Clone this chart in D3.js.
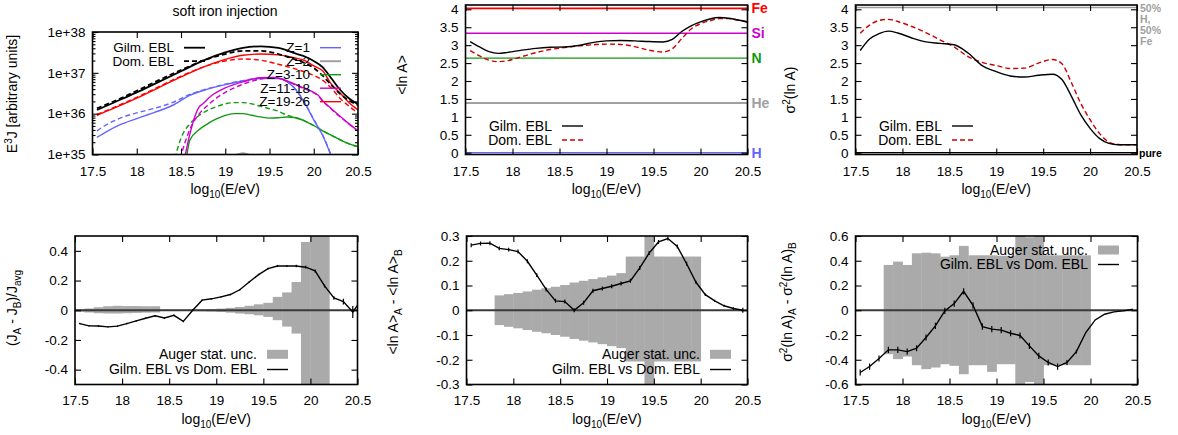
<!DOCTYPE html>
<html><head><meta charset="utf-8">
<script src="https://cdn.jsdelivr.net/npm/d3@7"></script>
<style>
body{margin:0;background:#fff;}
svg{display:block;font-family:"Liberation Sans",Arial,Helvetica,sans-serif;}
</style></head><body>
<svg id="chart" width="1178" height="435"></svg>
<script>
// ---------- shared axis data ----------
const xTickVals = [17.5, 18, 18.5, 19, 19.5, 20, 20.5];

// ---------- spectrum panel (log10 of E^3 J) ----------
const eTotal = [17.55,17.75,18.0,18.25,18.5,18.75,19.0,19.2,19.4,19.6,19.8,19.9,20.0,20.1,20.2,20.3,20.4,20.5];
const gilmTotal = [36.09,36.28,36.52,36.78,37.04,37.30,37.50,37.61,37.65,37.61,37.47,37.40,37.29,37.14,36.86,36.58,36.37,36.23];
const domTotal  = [36.13,36.31,36.56,36.82,37.07,37.30,37.46,37.54,37.54,37.46,37.32,37.24,37.12,36.93,36.70,36.48,36.32,36.21];
const gilmZ19   = [35.96,36.14,36.38,36.64,36.90,37.14,37.33,37.43,37.46,37.44,37.36,37.30,37.17,37.05,36.72,36.50,36.27,36.09];
const domZ19    = [35.98,36.16,36.40,36.66,36.92,37.14,37.29,37.34,37.31,37.21,37.09,37.02,36.94,36.82,36.62,36.37,36.18,36.02];

const eZ1 = [17.55,17.65,17.8,18.0,18.2,18.4,18.6,18.8,19.0,19.2,19.4,19.6,19.7,19.8,19.9,20.0,20.1,20.2];
const gilmZ1 = [35.42,35.55,35.72,35.88,36.03,36.20,36.45,36.60,36.71,36.80,36.86,36.86,36.78,36.58,36.25,35.85,35.47,34.95];
const domZ1  = [35.58,35.72,35.88,36.02,36.13,36.27,36.47,36.61,36.72,36.81,36.87,36.87,36.79,36.59,36.26,35.86,35.48,34.96];

const eZ11Gilm = [18.54,18.6,18.7,18.75,18.85,19.0,19.2,19.4,19.55,19.7,19.85,20.0,20.05,20.1,20.2,20.3,20.4,20.5];
const gilmZ11  = [34.9,35.5,36.15,36.25,36.45,36.63,36.78,36.88,36.89,36.80,36.66,36.52,36.45,36.32,36.12,35.93,35.75,35.58];
const eZ11Dom  = [18.49,18.6,18.7,18.8,18.9,19.0,19.2,19.4,19.55,19.7,19.85,20.0,20.05,20.1,20.2,20.3,20.4,20.5];
const domZ11   = [34.9,35.62,35.98,36.2,36.38,36.52,36.72,36.85,36.89,36.79,36.65,36.51,36.44,36.31,36.11,35.92,35.74,35.57];

const eZ3Gilm = [18.56,18.6,18.7,18.8,18.9,19.0,19.1,19.2,19.3,19.4,19.5,19.6,19.7,19.8,19.9,20.0,20.1,20.2,20.3,20.4,20.5];
const gilmZ3  = [34.9,35.35,35.6,35.75,35.87,35.96,36.0,36.0,35.96,35.92,35.89,35.9,35.92,35.9,35.82,35.71,35.58,35.47,35.36,35.26,35.19];
const eZ3Dom  = [18.43,18.5,18.6,18.7,18.8,18.9,19.0,19.1,19.2,19.3,19.4,19.5,19.6,19.7,19.8,19.9,20.0,20.1,20.2,20.3,20.4,20.5];
const domZ3   = [34.9,35.4,35.75,35.95,36.08,36.17,36.24,36.27,36.27,36.24,36.18,36.12,36.06,35.96,35.9,35.82,35.71,35.58,35.47,35.36,35.26,35.19];

const eZ2 = [19.1,19.2,19.3];
const gilmZ2 = [34.97,35.03,34.97];

const specTickVals = [1e35, 1e36, 1e37, 1e38];
const specTickLabels = ["1e+35", "1e+36", "1e+37", "1e+38"];

// ---------- composition panels ----------
const eComp = [17.55,17.65,17.75,17.85,17.95,18.1,18.25,18.4,18.55,18.7,18.85,19.0,19.15,19.3,19.45,19.6,19.7,19.8,19.9,20.0,20.1,20.2,20.3,20.4,20.5];
const gilmLnA = [3.10,2.95,2.82,2.77,2.80,2.86,2.91,2.94,2.95,2.99,3.07,3.12,3.13,3.12,3.10,3.09,3.16,3.38,3.54,3.65,3.73,3.77,3.75,3.70,3.64];
const domLnA  = [2.85,2.70,2.58,2.54,2.57,2.68,2.79,2.88,2.93,2.98,3.01,3.03,3.02,2.96,2.86,2.81,2.90,3.18,3.45,3.60,3.68,3.74,3.74,3.70,3.66];
const gilmVar = [2.85,3.17,3.32,3.39,3.34,3.20,3.09,3.05,3.01,2.78,2.43,2.26,2.14,2.11,2.16,2.19,2.04,1.58,1.06,0.68,0.40,0.26,0.22,0.22,0.22];
const domVar  = [3.33,3.56,3.69,3.72,3.66,3.52,3.35,3.15,2.95,2.68,2.52,2.43,2.35,2.36,2.50,2.60,2.48,1.96,1.38,0.92,0.54,0.30,0.23,0.22,0.22];

const elementNames = ["Fe", "Si", "N", "He", "H"];
const elementLnA   = [4.025, 3.332, 2.639, 1.386, 0.0];
const elementColors = ["#ff0000", "#cc00cc", "#109a10", "#a0a0a0", "#6464ff"];
const mixedVar = 4.05;   // 50% H + 50% Fe
const compTickVals = [0, 0.5, 1, 1.5, 2, 2.5, 3, 3.5, 4];

// ---------- difference panels ----------
const eDiff = [17.55,17.65,17.75,17.85,17.95,18.05,18.15,18.25,18.35,18.45,18.55,18.65,18.75,18.85,18.95,19.05,19.15,19.25,19.35,19.45,19.55,19.65,19.75,19.85,19.95,20.05,20.15,20.25,20.35,20.45,20.55];
const diffJ    = [-0.09,-0.105,-0.106,-0.112,-0.107,-0.09,-0.072,-0.054,-0.037,-0.052,-0.034,-0.075,0.0,0.068,0.077,0.09,0.106,0.138,0.19,0.24,0.28,0.298,0.298,0.298,0.29,0.265,0.164,0.083,0.058,-0.012,0.08];
const diffJErr = [0.005,0.005,0.005,0.005,0.005,0.005,0.005,0.005,0.005,0.005,0.005,0.005,0.005,0.005,0.005,0.005,0.005,0.005,0.005,0.005,0.006,0.006,0.007,0.008,0.009,0.01,0.01,0.012,0.02,0.04,0.05];
const diffLnA    = [0.263,0.27,0.271,0.25,0.245,0.237,0.198,0.142,0.084,0.038,0.035,0.0,0.03,0.079,0.088,0.097,0.108,0.119,0.171,0.231,0.276,0.29,0.258,0.188,0.113,0.063,0.038,0.018,0.007,0.0];
const diffLnAErr = [0.008,0.008,0.008,0.008,0.008,0.008,0.008,0.008,0.008,0.008,0.008,0.008,0.008,0.008,0.008,0.008,0.008,0.008,0.008,0.008,0.008,0.008,0.008,0.008,0.006,0.005,0.004,0.004,0.005,0.01];
const diffVar    = [-0.503,-0.455,-0.39,-0.32,-0.32,-0.334,-0.307,-0.22,-0.126,-0.005,0.054,0.153,0.04,-0.132,-0.153,-0.161,-0.186,-0.204,-0.288,-0.369,-0.422,-0.455,-0.422,-0.334,-0.18,-0.078,-0.032,-0.013,-0.005,0.008];
const diffVarErr = [0.025,0.025,0.025,0.025,0.025,0.025,0.025,0.025,0.025,0.025,0.025,0.025,0.025,0.025,0.025,0.025,0.025,0.025,0.025,0.025,0.025,0.025,0.02,0.015,0.0,0.0,0.0,0.0,0.0,0.0];

// Auger statistical uncertainty (bin lower edges, width 0.1)
const binJ = [17.5,17.6,17.7,17.8,17.9,18.0,18.1,18.2,18.3,18.4,18.5,18.6,18.7,18.8,18.9,19.0,19.1,19.2,19.3,19.4,19.5,19.6,19.7,19.8,19.9,20.0,20.1];
const uncJUp   = [0.008,0.012,0.02,0.027,0.03,0.028,0.028,0.027,0.027,0.004,0.004,0.004,0.005,0.006,0.008,0.011,0.016,0.022,0.03,0.04,0.05,0.09,0.12,0.19,0.46,0.6,0.6];
const uncJDown = [-0.01,-0.015,-0.02,-0.022,-0.022,-0.02,-0.018,-0.016,-0.015,-0.004,-0.004,-0.005,-0.006,-0.007,-0.009,-0.012,-0.016,-0.022,-0.027,-0.034,-0.045,-0.067,-0.11,-0.157,-0.6,-0.6,-0.6];
const binComp = [17.8,17.9,18.0,18.1,18.2,18.3,18.4,18.5,18.6,18.7,18.8,18.9,19.0,19.1,19.2,19.3,19.4,19.5,19.6,19.7,19.8,19.9];
const uncLnAUp   = [0.060,0.065,0.070,0.076,0.083,0.089,0.095,0.102,0.112,0.119,0.126,0.133,0.140,0.150,0.217,0.217,0.4,0.217,0.217,0.217,0.217,0.217];
const uncLnADown = [-0.060,-0.067,-0.073,-0.080,-0.087,-0.093,-0.100,-0.107,-0.116,-0.123,-0.130,-0.137,-0.145,-0.153,-0.207,-0.207,-0.4,-0.207,-0.207,-0.207,-0.207,-0.207];
const uncVarUp   = [0.366,0.393,0.366,0.46,0.465,0.46,0.433,0.444,0.52,0.444,0.444,0.444,0.44,0.44,0.7,0.59,0.7,0.444,0.444,0.444,0.444,0.444];
const uncVarDown = [-0.355,-0.395,-0.374,-0.444,-0.476,-0.463,-0.436,-0.449,-0.517,-0.444,-0.444,-0.498,-0.436,-0.436,-0.7,-0.58,-0.7,-0.444,-0.444,-0.444,-0.444,-0.444];
const binWidth = 0.1;

// ---------- drawing helpers ----------
const svg = d3.select("#chart");
const FONT = 13.5;
let clipCount = 0;

function makePanel(c) {
  const x = d3.scaleLinear().domain([17.5, 20.5]).range([c.left, c.right]);
  const y = (c.log ? d3.scaleLog() : d3.scaleLinear()).domain(c.yDomain).range([c.bottom, c.top]);
  const id = "clip" + (clipCount++);
  svg.append("clipPath").attr("id", id).append("rect")
    .attr("x", c.left).attr("y", c.top).attr("width", c.right - c.left).attr("height", c.bottom - c.top);
  const plot = svg.append("g").attr("clip-path", `url(#${id})`);
  return Object.assign({}, c, { x, y, plot });
}

function styleAxis(g) {
  g.select(".domain").remove();
  g.attr("font-size", FONT).attr("font-family", null);
  g.selectAll(".tick line").attr("stroke", "#000").attr("stroke-width", 1.1);
  g.selectAll(".tick text").attr("fill", "#000");
}

function drawAxes(p) {
  svg.append("g").attr("transform", `translate(0,${p.bottom})`)
    .call(d3.axisBottom(p.x).tickValues(xTickVals).tickSizeInner(-6).tickSizeOuter(0).tickPadding(p.xPad || 11.5).tickFormat(d => String(d)))
    .call(styleAxis);
  svg.append("g").attr("transform", `translate(0,${p.top})`)
    .call(d3.axisTop(p.x).tickValues(xTickVals).tickSizeInner(-6).tickSizeOuter(0).tickFormat(""))
    .call(styleAxis);
  const fmt = p.yLabels ? (d => p.yLabels[p.yTicks.indexOf(d)]) : (d => String(d));
  svg.append("g").attr("transform", `translate(${p.left},0)`)
    .call(d3.axisLeft(p.y).tickValues(p.yTicks).tickSizeInner(-6).tickSizeOuter(0).tickPadding(7).tickFormat(fmt))
    .call(styleAxis);
  svg.append("g").attr("transform", `translate(${p.right},0)`)
    .call(d3.axisRight(p.y).tickValues(p.yTicks).tickSizeInner(-6).tickSizeOuter(0).tickFormat(""))
    .call(styleAxis);
  if (p.minor) {
    svg.append("g").attr("transform", `translate(${p.left},0)`)
      .call(d3.axisLeft(p.y).tickValues(p.minor).tickSizeInner(-3).tickSizeOuter(0).tickFormat(""))
      .call(styleAxis);
    svg.append("g").attr("transform", `translate(${p.right},0)`)
      .call(d3.axisRight(p.y).tickValues(p.minor).tickSizeInner(-3).tickSizeOuter(0).tickFormat(""))
      .call(styleAxis);
  }
  svg.append("rect").attr("x", p.left).attr("y", p.top)
    .attr("width", p.right - p.left).attr("height", p.bottom - p.top)
    .attr("fill", "none").attr("stroke", "#000").attr("stroke-width", 1.6);
}

function xLabel(p, baseline) {
  const t = svg.append("text").attr("x", (p.left + p.right) / 2).attr("y", baseline)
    .attr("text-anchor", "middle").attr("font-size", 14);
  t.append("tspan").text("log");
  t.append("tspan").attr("dy", 4).attr("font-size", 10).text("10");
  t.append("tspan").attr("dy", -4).text("(E/eV)");
}

// parts: [text, "n"|"sup"|"sub"]
function yLabel(cx, cy, parts) {
  const t = svg.append("text").attr("transform", `translate(${cx},${cy}) rotate(-90)`)
    .attr("text-anchor", "middle").attr("dy", "0.35em").attr("font-size", 14);
  let shift = 0;
  parts.forEach(([s, kind]) => {
    const target = kind === "sup" ? -5 : kind === "sub" ? 4 : 0;
    const sp = t.append("tspan").attr("dy", target - shift).text(s);
    if (kind !== "n") sp.attr("font-size", 10);
    shift = target;
  });
}

function seriesLine(p, xs, ys, opts) {
  const pts = xs.map((e, i) => [e, ys[i]]);
  const line = d3.line()
    .x(d => p.x(d[0]))
    .y(d => p.y(opts.log ? Math.pow(10, d[1]) : d[1]))
    .curve(opts.curve || d3.curveMonotoneX);
  p.plot.append("path").datum(pts).attr("d", line)
    .attr("fill", "none").attr("stroke", opts.color).attr("stroke-width", opts.width || 1.4)
    .attr("stroke-dasharray", opts.dash || null).attr("stroke-linejoin", "round");
}

function legendRow(textRight, cy, label, kind, color, dash, width, size) {
  svg.append("text").attr("x", textRight).attr("y", cy).attr("dy", "0.35em")
    .attr("text-anchor", "end").attr("font-size", size || 14).text(label);
  if (kind === "box") {
    svg.append("rect").attr("x", textRight + 10).attr("y", cy - 4.5)
      .attr("width", 21).attr("height", 9).attr("fill", color);
  } else {
    svg.append("line").attr("x1", textRight + 10).attr("x2", textRight + 31)
      .attr("y1", cy).attr("y2", cy).attr("stroke", color)
      .attr("stroke-width", width || 1.4).attr("stroke-dasharray", dash || null);
  }
}

function uncBars(p, bins, up, down) {
  p.plot.selectAll(null).data(bins.map((b, i) => [b, up[i], down[i]])).enter()
    .append("rect")
    .attr("x", d => p.x(d[0]))
    .attr("width", d => p.x(d[0] + binWidth) - p.x(d[0]) + 0.4)
    .attr("y", d => p.y(d[1]))
    .attr("height", d => p.y(d[2]) - p.y(d[1]))
    .attr("fill", "#aaaaaa");
}

function zeroLine(p) {
  p.plot.append("line").attr("x1", p.left).attr("x2", p.right)
    .attr("y1", p.y(0)).attr("y2", p.y(0)).attr("stroke", "#3a3a3a").attr("stroke-width", 2);
}

function diffSeries(p, xs, ys, errs) {
  const pts = ys.map((v, i) => [xs[i], v, errs[i]]);
  p.plot.append("path").datum(pts)
    .attr("d", d3.line().x(d => p.x(d[0])).y(d => p.y(d[1])))
    .attr("fill", "none").attr("stroke", "#000").attr("stroke-width", 1.4);
  p.plot.selectAll(null).data(pts.filter(d => d[2] > 0)).enter().append("line")
    .attr("x1", d => p.x(d[0])).attr("x2", d => p.x(d[0]))
    .attr("y1", d => p.y(d[1] - d[2])).attr("y2", d => p.y(d[1] + d[2]))
    .attr("stroke", "#000").attr("stroke-width", 1.2);
}

// ---------- A: spectrum ----------
const minorLog = [];
[1e35, 1e36, 1e37].forEach(dec => [2,3,4,5,6,7,8,9].forEach(m => minorLog.push(dec * m)));
const pA = makePanel({ left: 92.5, right: 358, top: 32, bottom: 154.5, log: true,
  yDomain: [1e35, 1e38], yTicks: specTickVals, yLabels: specTickLabels, minor: minorLog });

const cBlue = "#6464ff", cGrey = "#a0a0a0", cGreen = "#109a10", cMag = "#d000d0", cRed = "#ff0000";
seriesLine(pA, eZ2, gilmZ2, { log: true, color: cGrey, width: 2 });
seriesLine(pA, eZ3Dom, domZ3, { log: true, color: cGreen, dash: "5,3" });
seriesLine(pA, eZ3Gilm, gilmZ3, { log: true, color: cGreen });
seriesLine(pA, eZ1, domZ1, { log: true, color: cBlue, dash: "5,3" });
seriesLine(pA, eZ1, gilmZ1, { log: true, color: cBlue });
seriesLine(pA, eZ11Dom, domZ11, { log: true, color: cMag, dash: "5,3" });
seriesLine(pA, eZ11Gilm, gilmZ11, { log: true, color: cMag });
seriesLine(pA, eTotal, domZ19, { log: true, color: cRed, dash: "5,3" });
seriesLine(pA, eTotal, gilmZ19, { log: true, color: cRed });
seriesLine(pA, eTotal, domTotal, { log: true, color: "#000", dash: "5,3", width: 1.8 });
seriesLine(pA, eTotal, gilmTotal, { log: true, color: "#000", width: 1.8 });
drawAxes(pA);
svg.append("text").attr("x", 225).attr("y", 15.5).attr("text-anchor", "middle")
  .attr("font-size", 14).text("soft iron injection");
xLabel(pA, 194);
yLabel(17, 94, [["E", "n"], ["3", "sup"], ["J [arbitrary units]", "n"]]);
legendRow(174, 47.7, "Gilm. EBL", "line", "#000", null, 1.8, 13.5);
legendRow(174, 61.2, "Dom. EBL", "line", "#000", "5,3", 1.8, 13.5);
const zNames = ["Z=1", "Z=2", "Z=3-10", "Z=11-18", "Z=19-26"];
const zColors = [cBlue, cGrey, cGreen, cMag, cRed];
zNames.forEach((n, i) => legendRow(310, 47.7 + i * 13.5, n, "line", zColors[i], null, i === 1 ? 2 : 1.4, 13.5));

// ---------- B: <ln A> ----------
const pB = makePanel({ left: 465.5, right: 747.5, top: 5, bottom: 154.5,
  yDomain: [-0.05, 4.12], yTicks: compTickVals });
elementLnA.forEach((v, i) => {
  pB.plot.append("line").attr("x1", pB.left).attr("x2", pB.right)
    .attr("y1", pB.y(v)).attr("y2", pB.y(v)).attr("stroke", elementColors[i])
    .attr("stroke-width", i === 3 ? 2 : (i === 0 ? 1.8 : 1.3));
  svg.append("text").attr("x", pB.right + 4).attr("y", pB.y(v)).attr("dy", "0.36em")
    .attr("font-size", 14).attr("font-weight", "bold").attr("fill", elementColors[i]).text(elementNames[i]);
});
seriesLine(pB, eComp, domLnA, { color: "#cc0000", dash: "5,3" });
seriesLine(pB, eComp, gilmLnA, { color: "#000" });
drawAxes(pB);
xLabel(pB, 194);
yLabel(407, 75, [["<ln A>", "n"]]);
legendRow(552, 126, "Gilm. EBL", "line", "#000");
legendRow(552, 140, "Dom. EBL", "line", "#cc0000", "5,3");

// ---------- C: sigma^2(ln A) ----------
const pC = makePanel({ left: 855.5, right: 1137, top: 5, bottom: 154.5,
  yDomain: [-0.05, 4.12], yTicks: compTickVals });
pC.plot.append("line").attr("x1", pC.left).attr("x2", pC.right)
  .attr("y1", pC.y(mixedVar)).attr("y2", pC.y(mixedVar)).attr("stroke", "#a0a0a0").attr("stroke-width", 1.5);
pC.plot.append("line").attr("x1", pC.left).attr("x2", pC.right)
  .attr("y1", pC.y(0)).attr("y2", pC.y(0)).attr("stroke", "#000").attr("stroke-width", 1.3);
seriesLine(pC, eComp, domVar, { color: "#cc0000", dash: "5,3" });
seriesLine(pC, eComp, gilmVar, { color: "#000" });
drawAxes(pC);
xLabel(pC, 194);
yLabel(795, 90, [["σ", "n"], ["2", "sup"], ["(ln A)", "n"]]);
legendRow(942, 126, "Gilm. EBL", "line", "#000");
legendRow(942, 140, "Dom. EBL", "line", "#cc0000", "5,3");
["50%", "H,", "50%", "Fe"].forEach((s, i) => {
  svg.append("text").attr("x", 1140).attr("y", 8 + i * 11).attr("dy", "0.35em")
    .attr("font-size", 10.5).attr("font-weight", "bold").attr("fill", "#a0a0a0").text(s);
});
svg.append("text").attr("x", 1139).attr("y", pC.y(0)).attr("dy", "0.38em")
  .attr("font-size", 10.5).attr("font-weight", "bold").attr("fill", "#000").text("pure");

// ---------- D: flux difference ----------
const pD = makePanel({ left: 75, right: 357.5, top: 236, bottom: 384.5,
  yDomain: [-0.5, 0.5], yTicks: [-0.4, -0.2, 0, 0.2, 0.4] });
uncBars(pD, binJ, uncJUp, uncJDown);
zeroLine(pD);
diffSeries(pD, eDiff, diffJ, diffJErr);
drawAxes(Object.assign(pD, { xPad: 11 }));
xLabel(pD, 424);
yLabel(17, 308, [["(J", "n"], ["A", "sub"], [" - J", "n"], ["B", "sub"], [")/J", "n"], ["avg", "sub"]]);
legendRow(257, 354.3, "Auger stat. unc.", "box", "#aaaaaa");
legendRow(257, 369.5, "Gilm. EBL vs Dom. EBL", "line", "#000");

// ---------- E: <ln A> difference ----------
const pE = makePanel({ left: 466.5, right: 747.5, top: 236, bottom: 384.5,
  yDomain: [-0.3, 0.3], yTicks: [-0.3, -0.2, -0.1, 0, 0.1, 0.2, 0.3] });
uncBars(pE, binComp, uncLnAUp, uncLnADown);
zeroLine(pE);
diffSeries(pE, eDiff, diffLnA, diffLnAErr);
drawAxes(Object.assign(pE, { xPad: 11 }));
xLabel(pE, 424);
yLabel(398, 302, [["<ln A>", "n"], ["A", "sub"], [" - <ln A>", "n"], ["B", "sub"]]);
legendRow(700, 354.3, "Auger stat. unc.", "box", "#aaaaaa");
legendRow(700, 369.5, "Gilm. EBL vs Dom. EBL", "line", "#000");

// ---------- F: sigma^2 difference ----------
const pF = makePanel({ left: 855.5, right: 1137.5, top: 236, bottom: 384.5,
  yDomain: [-0.6, 0.6], yTicks: [-0.6, -0.4, -0.2, 0, 0.2, 0.4, 0.6] });
uncBars(pF, binComp, uncVarUp, uncVarDown);
zeroLine(pF);
diffSeries(pF, eDiff, diffVar, diffVarErr);
drawAxes(Object.assign(pF, { xPad: 11 }));
xLabel(pF, 424);
yLabel(792, 302, [["σ", "n"], ["2", "sup"], ["(ln A)", "n"], ["A", "sub"], [" - σ", "n"], ["2", "sup"], ["(ln A)", "n"], ["B", "sub"]]);
legendRow(1088, 250, "Auger stat. unc.", "box", "#aaaaaa");
legendRow(1088, 264.5, "Gilm. EBL vs Dom. EBL", "line", "#000");
</script></body></html>
